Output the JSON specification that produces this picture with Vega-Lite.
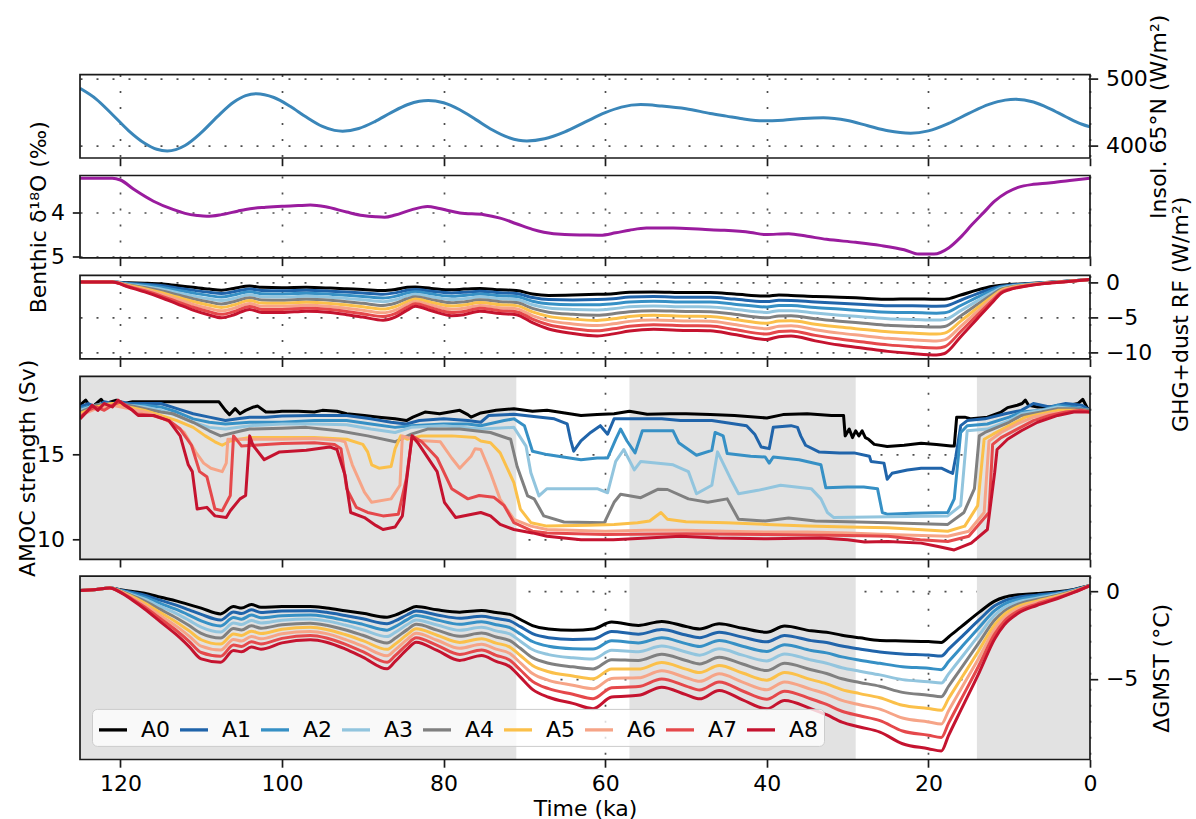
{
  "$schema": "https://vega.github.io/schema/vega-lite/v6.json",
  "padding": {"left": 15, "top": 13.6, "right": 0, "bottom": 0},
  "autosize": {"type": "pad"},
  "background": "white",
  "bounds": "flush",
  "spacing": 16.9,
  "resolve": {"scale": {"color": "independent"}, "legend": {"color": "independent"}},
  "config": {
    "font": "DejaVu Sans",
    "view": {"stroke": null},
    "axis": {
      "labelFont": "DejaVu Sans", "titleFont": "DejaVu Sans",
      "labelFontSize": 22, "titleFontSize": 22, "titleFontWeight": "normal",
      "labelColor": "#000000", "titleColor": "#000000",
      "tickSize": 7.7, "tickWidth": 1.7, "tickColor": "#1a1a1a",
      "domain": false, "grid": true, "gridDash": [2, 14], "gridColor": "#4d4d4d", "gridWidth": 1.7,
      "labelPadding": 7.7, "zindex": 1, "labelFlush": false, "labelOverlap": false, "format": "d"
    }
  },
  "datasets": {
    "mis": [{"a": 125, "b": 71}, {"a": 57, "b": 29}, {"a": 14, "b": 0}],
    "insol": [
      {"t":125,"v":486},{"t":123,"v":470},{"t":121,"v":447},{"t":119,"v":423},{"t":117,"v":404},{"t":115.5,"v":395},{"t":114.2,"v":392.5},{"t":112,"v":400.7},{"t":110,"v":419.8},{"t":108,"v":443.7},{"t":106,"v":465.1},{"t":104.5,"v":475.1},{"t":103.2,"v":478},{"t":101,"v":472.3},{"t":99,"v":459.3},{"t":97,"v":443.1},{"t":95,"v":429.2},{"t":93.5,"v":423.2},{"t":92.5,"v":422},{"t":90.5,"v":426},{"t":88.5,"v":436.4},{"t":86.5,"v":449.7},{"t":84.5,"v":461.5},{"t":83,"v":466.8},{"t":81.9,"v":468},{"t":80,"v":464.4},{"t":78,"v":454},{"t":76,"v":439.3},{"t":74,"v":424.2},{"t":72,"v":412.7},{"t":70.7,"v":408.5},{"t":69.7,"v":407.5},{"t":67.5,"v":410.7},{"t":65,"v":421.1},{"t":62.5,"v":435.5},{"t":60,"v":449.7},{"t":58,"v":458},{"t":55.6,"v":461.7},{"t":53,"v":459.5},{"t":50,"v":455.5},{"t":47,"v":448.5},{"t":45,"v":444.5},{"t":43,"v":440.5},{"t":40.5,"v":437.5},{"t":38,"v":438.5},{"t":35.5,"v":441},{"t":33,"v":442},{"t":30,"v":437.9},{"t":27.5,"v":430.2},{"t":25,"v":422.6},{"t":22.2,"v":419},{"t":20,"v":422.5},{"t":17.5,"v":433.7},{"t":15,"v":448.6},{"t":12.5,"v":462},{"t":10.5,"v":468.4},{"t":9.2,"v":469.6},{"t":7,"v":465.5},{"t":5,"v":455.8},{"t":3,"v":443.6},{"t":1,"v":432.4},{"t":0,"v":428.4}
    ],
    "d18o": [
      {"t":125,"v":3.2},{"t":121,"v":3.2},{"t":120,"v":3.24},{"t":118.3,"v":3.46},{"t":115.9,"v":3.73},{"t":113.5,"v":3.92},{"t":112,"v":4.01},{"t":110.5,"v":4.06},{"t":109.3,"v":4.08},{"t":107.5,"v":4.04},{"t":105.5,"v":3.96},{"t":104.5,"v":3.92},{"t":102,"v":3.87},{"t":100,"v":3.845},{"t":98,"v":3.83},{"t":96.5,"v":3.82},{"t":94.6,"v":3.86},{"t":92,"v":3.98},{"t":90,"v":4.06},{"t":88.4,"v":4.09},{"t":87.3,"v":4.1},{"t":86,"v":4.05},{"t":84,"v":3.93},{"t":82,"v":3.85},{"t":80.5,"v":3.9},{"t":78,"v":4.0},{"t":75,"v":4.04},{"t":73,"v":4.12},{"t":71,"v":4.25},{"t":69,"v":4.38},{"t":67.6,"v":4.446},{"t":65,"v":4.5},{"t":62.5,"v":4.51},{"t":60.6,"v":4.515},{"t":58.7,"v":4.46},{"t":57,"v":4.4},{"t":54.9,"v":4.35},{"t":51.6,"v":4.35},{"t":48,"v":4.38},{"t":45.4,"v":4.4},{"t":42,"v":4.45},{"t":40.2,"v":4.5},{"t":37.3,"v":4.48},{"t":35,"v":4.54},{"t":32.6,"v":4.61},{"t":29,"v":4.68},{"t":26,"v":4.75},{"t":23,"v":4.85},{"t":21.2,"v":4.95},{"t":19.3,"v":4.95},{"t":17.5,"v":4.81},{"t":16,"v":4.56},{"t":14.6,"v":4.27},{"t":13.2,"v":4.0},{"t":11.8,"v":3.73},{"t":10.3,"v":3.53},{"t":8.9,"v":3.41},{"t":7,"v":3.34},{"t":5.1,"v":3.31},{"t":2.5,"v":3.25},{"t":0,"v":3.2}
    ],
    "rf": [
      {"t":125,"A0":0.1,"A1":0.1,"A2":0.1,"A3":0.1,"A4":0.1,"A5":0.1,"A6":0.1,"A7":0.1,"A8":0.1},
      {"t":121,"A0":0.1,"A1":0.1,"A2":0.1,"A3":0.1,"A4":0.1,"A5":0.1,"A6":0.1,"A7":0.1,"A8":0.1},
      {"t":119,"A0":0,"A1":-0.08,"A2":-0.15,"A3":-0.23,"A4":-0.3,"A5":-0.38,"A6":-0.45,"A7":-0.53,"A8":-0.6},
      {"t":117,"A0":-0.05,"A1":-0.21,"A2":-0.36,"A3":-0.52,"A4":-0.68,"A5":-0.83,"A6":-0.99,"A7":-1.14,"A8":-1.3},
      {"t":115,"A0":-0.15,"A1":-0.39,"A2":-0.64,"A3":-0.88,"A4":-1.13,"A5":-1.37,"A6":-1.61,"A7":-1.86,"A8":-2.1},
      {"t":113,"A0":-0.4,"A1":-0.73,"A2":-1.05,"A3":-1.38,"A4":-1.7,"A5":-2.03,"A6":-2.35,"A7":-2.68,"A8":-3.0},
      {"t":111,"A0":-0.65,"A1":-1.06,"A2":-1.46,"A3":-1.87,"A4":-2.28,"A5":-2.68,"A6":-3.09,"A7":-3.49,"A8":-3.9},
      {"t":109,"A0":-0.9,"A1":-1.36,"A2":-1.83,"A3":-2.29,"A4":-2.75,"A5":-3.21,"A6":-3.68,"A7":-4.14,"A8":-4.6},
      {"t":107.5,"A0":-1.05,"A1":-1.54,"A2":-2.04,"A3":-2.53,"A4":-3.03,"A5":-3.52,"A6":-4.01,"A7":-4.51,"A8":-5.0},
      {"t":106,"A0":-0.8,"A1":-1.28,"A2":-1.75,"A3":-2.23,"A4":-2.7,"A5":-3.18,"A6":-3.65,"A7":-4.13,"A8":-4.6},
      {"t":104,"A0":-0.45,"A1":-0.87,"A2":-1.29,"A3":-1.71,"A4":-2.13,"A5":-2.54,"A6":-2.96,"A7":-3.38,"A8":-3.8},
      {"t":102.5,"A0":-0.65,"A1":-1.1,"A2":-1.55,"A3":-2.0,"A4":-2.45,"A5":-2.9,"A6":-3.35,"A7":-3.8,"A8":-4.25},
      {"t":100,"A0":-0.7,"A1":-1.14,"A2":-1.59,"A3":-2.03,"A4":-2.48,"A5":-2.92,"A6":-3.36,"A7":-3.81,"A8":-4.25},
      {"t":97,"A0":-0.65,"A1":-1.08,"A2":-1.5,"A3":-1.93,"A4":-2.35,"A5":-2.78,"A6":-3.2,"A7":-3.63,"A8":-4.05},
      {"t":94,"A0":-0.75,"A1":-1.19,"A2":-1.63,"A3":-2.06,"A4":-2.5,"A5":-2.94,"A6":-3.38,"A7":-3.81,"A8":-4.25},
      {"t":92,"A0":-0.85,"A1":-1.31,"A2":-1.78,"A3":-2.24,"A4":-2.7,"A5":-3.16,"A6":-3.63,"A7":-4.09,"A8":-4.55},
      {"t":90,"A0":-0.95,"A1":-1.44,"A2":-1.94,"A3":-2.43,"A4":-2.93,"A5":-3.42,"A6":-3.91,"A7":-4.41,"A8":-4.9},
      {"t":87.5,"A0":-1.1,"A1":-1.63,"A2":-2.16,"A3":-2.69,"A4":-3.23,"A5":-3.76,"A6":-4.29,"A7":-4.82,"A8":-5.35},
      {"t":86,"A0":-0.95,"A1":-1.44,"A2":-1.94,"A3":-2.43,"A4":-2.93,"A5":-3.42,"A6":-3.91,"A7":-4.41,"A8":-4.9},
      {"t":84.5,"A0":-0.65,"A1":-1.06,"A2":-1.46,"A3":-1.87,"A4":-2.28,"A5":-2.68,"A6":-3.09,"A7":-3.49,"A8":-3.9},
      {"t":83.5,"A0":-0.6,"A1":-0.94,"A2":-1.29,"A3":-1.63,"A4":-1.98,"A5":-2.32,"A6":-2.66,"A7":-3.01,"A8":-3.35},
      {"t":81.5,"A0":-0.8,"A1":-1.2,"A2":-1.6,"A3":-2.0,"A4":-2.4,"A5":-2.8,"A6":-3.2,"A7":-3.6,"A8":-4.0},
      {"t":79,"A0":-1.0,"A1":-1.46,"A2":-1.93,"A3":-2.39,"A4":-2.85,"A5":-3.31,"A6":-3.78,"A7":-4.24,"A8":-4.7},
      {"t":77.5,"A0":-0.9,"A1":-1.36,"A2":-1.81,"A3":-2.27,"A4":-2.73,"A5":-3.18,"A6":-3.64,"A7":-4.09,"A8":-4.55},
      {"t":75.5,"A0":-0.8,"A1":-1.21,"A2":-1.61,"A3":-2.02,"A4":-2.43,"A5":-2.83,"A6":-3.24,"A7":-3.64,"A8":-4.05},
      {"t":73,"A0":-1.0,"A1":-1.43,"A2":-1.85,"A3":-2.28,"A4":-2.7,"A5":-3.13,"A6":-3.55,"A7":-3.98,"A8":-4.4},
      {"t":71,"A0":-1.1,"A1":-1.53,"A2":-1.96,"A3":-2.39,"A4":-2.83,"A5":-3.26,"A6":-3.69,"A7":-4.12,"A8":-4.55},
      {"t":69,"A0":-1.6,"A1":-2.11,"A2":-2.63,"A3":-3.14,"A4":-3.65,"A5":-4.16,"A6":-4.68,"A7":-5.19,"A8":-5.7},
      {"t":67,"A0":-1.8,"A1":-2.4,"A2":-3.0,"A3":-3.6,"A4":-4.2,"A5":-4.8,"A6":-5.4,"A7":-6.0,"A8":-6.6},
      {"t":64,"A0":-1.75,"A1":-2.44,"A2":-3.13,"A3":-3.81,"A4":-4.5,"A5":-5.19,"A6":-5.88,"A7":-6.56,"A8":-7.25},
      {"t":61,"A0":-1.65,"A1":-2.39,"A2":-3.14,"A3":-3.88,"A4":-4.63,"A5":-5.37,"A6":-6.11,"A7":-6.86,"A8":-7.6},
      {"t":59,"A0":-1.55,"A1":-2.27,"A2":-2.99,"A3":-3.71,"A4":-4.43,"A5":-5.14,"A6":-5.86,"A7":-6.58,"A8":-7.3},
      {"t":57,"A0":-1.35,"A1":-2.04,"A2":-2.74,"A3":-3.43,"A4":-4.13,"A5":-4.82,"A6":-5.51,"A7":-6.21,"A8":-6.9},
      {"t":54,"A0":-1.3,"A1":-1.97,"A2":-2.64,"A3":-3.31,"A4":-3.98,"A5":-4.64,"A6":-5.31,"A7":-5.98,"A8":-6.65},
      {"t":50,"A0":-1.4,"A1":-2.08,"A2":-2.75,"A3":-3.43,"A4":-4.1,"A5":-4.78,"A6":-5.45,"A7":-6.13,"A8":-6.8},
      {"t":47,"A0":-1.4,"A1":-2.08,"A2":-2.76,"A3":-3.44,"A4":-4.13,"A5":-4.81,"A6":-5.49,"A7":-6.17,"A8":-6.85},
      {"t":44,"A0":-1.6,"A1":-2.33,"A2":-3.05,"A3":-3.78,"A4":-4.5,"A5":-5.23,"A6":-5.95,"A7":-6.68,"A8":-7.4},
      {"t":40,"A0":-1.9,"A1":-2.68,"A2":-3.45,"A3":-4.23,"A4":-5.0,"A5":-5.78,"A6":-6.55,"A7":-7.33,"A8":-8.1},
      {"t":38.5,"A0":-1.75,"A1":-2.49,"A2":-3.24,"A3":-3.98,"A4":-4.73,"A5":-5.47,"A6":-6.21,"A7":-6.96,"A8":-7.7},
      {"t":37,"A0":-1.8,"A1":-2.53,"A2":-3.25,"A3":-3.98,"A4":-4.7,"A5":-5.43,"A6":-6.15,"A7":-6.88,"A8":-7.6},
      {"t":34,"A0":-1.95,"A1":-2.74,"A2":-3.54,"A3":-4.33,"A4":-5.13,"A5":-5.92,"A6":-6.71,"A7":-7.51,"A8":-8.3},
      {"t":31,"A0":-2.05,"A1":-2.91,"A2":-3.76,"A3":-4.62,"A4":-5.48,"A5":-6.33,"A6":-7.19,"A7":-8.04,"A8":-8.9},
      {"t":28,"A0":-2.2,"A1":-3.09,"A2":-3.99,"A3":-4.88,"A4":-5.78,"A5":-6.67,"A6":-7.56,"A7":-8.46,"A8":-9.35},
      {"t":25,"A0":-2.35,"A1":-3.28,"A2":-4.21,"A3":-5.14,"A4":-6.08,"A5":-7.01,"A6":-7.94,"A7":-8.87,"A8":-9.8},
      {"t":22,"A0":-2.3,"A1":-3.28,"A2":-4.25,"A3":-5.23,"A4":-6.2,"A5":-7.18,"A6":-8.15,"A7":-9.13,"A8":-10.1},
      {"t":19,"A0":-2.35,"A1":-3.34,"A2":-4.34,"A3":-5.33,"A4":-6.33,"A5":-7.32,"A6":-8.31,"A7":-9.31,"A8":-10.3},
      {"t":18,"A0":-2.35,"A1":-3.32,"A2":-4.29,"A3":-5.26,"A4":-6.23,"A5":-7.19,"A6":-8.16,"A7":-9.13,"A8":-10.1},
      {"t":16,"A0":-1.75,"A1":-2.49,"A2":-3.24,"A3":-3.98,"A4":-4.73,"A5":-5.47,"A6":-6.21,"A7":-6.96,"A8":-7.7},
      {"t":14,"A0":-1.05,"A1":-1.57,"A2":-2.09,"A3":-2.61,"A4":-3.13,"A5":-3.64,"A6":-4.16,"A7":-4.68,"A8":-5.2},
      {"t":12,"A0":-0.5,"A1":-0.78,"A2":-1.05,"A3":-1.33,"A4":-1.6,"A5":-1.88,"A6":-2.15,"A7":-2.43,"A8":-2.7},
      {"t":11,"A0":-0.33,"A1":-0.48,"A2":-0.62,"A3":-0.77,"A4":-0.92,"A5":-1.06,"A6":-1.21,"A7":-1.35,"A8":-1.5},
      {"t":10,"A0":-0.25,"A1":-0.34,"A2":-0.44,"A3":-0.53,"A4":-0.63,"A5":-0.72,"A6":-0.81,"A7":-0.91,"A8":-1.0},
      {"t":8,"A0":-0.12,"A1":-0.17,"A2":-0.22,"A3":-0.26,"A4":-0.31,"A5":-0.36,"A6":-0.4,"A7":-0.45,"A8":-0.5},
      {"t":6,"A0":0,"A1":-0.02,"A2":-0.04,"A3":-0.06,"A4":-0.08,"A5":-0.09,"A6":-0.11,"A7":-0.13,"A8":-0.15},
      {"t":3,"A0":0.22,"A1":0.21,"A2":0.2,"A3":0.19,"A4":0.19,"A5":0.18,"A6":0.17,"A7":0.16,"A8":0.15},
      {"t":0,"A0":0.48,"A1":0.48,"A2":0.48,"A3":0.48,"A4":0.48,"A5":0.48,"A6":0.48,"A7":0.48,"A8":0.48}
    ],
    "gmst": [
      {"t":125,"A0":0.06,"A1":0.06,"A2":0.06,"A3":0.06,"A4":0.06,"A5":0.06,"A6":0.06,"A7":0.06,"A8":0.06},
      {"t":123,"A0":0.12,"A1":0.12,"A2":0.12,"A3":0.12,"A4":0.12,"A5":0.12,"A6":0.12,"A7":0.12,"A8":0.12},
      {"t":121.3,"A0":0.2,"A1":0.2,"A2":0.2,"A3":0.2,"A4":0.2,"A5":0.2,"A6":0.2,"A7":0.2,"A8":0.2},
      {"t":120,"A0":0.1,"A1":0.08,"A2":0.06,"A3":0.04,"A4":0.03,"A5":0.01,"A6":-0.01,"A7":-0.03,"A8":-0.05},
      {"t":118.5,"A0":0,"A1":-0.06,"A2":-0.13,"A3":-0.19,"A4":-0.25,"A5":-0.31,"A6":-0.38,"A7":-0.44,"A8":-0.5},
      {"t":117,"A0":-0.1,"A1":-0.21,"A2":-0.33,"A3":-0.44,"A4":-0.55,"A5":-0.66,"A6":-0.78,"A7":-0.89,"A8":-1.0},
      {"t":115,"A0":-0.33,"A1":-0.51,"A2":-0.69,"A3":-0.86,"A4":-1.04,"A5":-1.22,"A6":-1.4,"A7":-1.57,"A8":-1.75},
      {"t":113,"A0":-0.55,"A1":-0.79,"A2":-1.04,"A3":-1.28,"A4":-1.53,"A5":-1.77,"A6":-2.01,"A7":-2.26,"A8":-2.5},
      {"t":111.5,"A0":-0.75,"A1":-1.05,"A2":-1.35,"A3":-1.65,"A4":-1.95,"A5":-2.25,"A6":-2.55,"A7":-2.85,"A8":-3.15},
      {"t":110,"A0":-0.95,"A1":-1.31,"A2":-1.68,"A3":-2.04,"A4":-2.4,"A5":-2.76,"A6":-3.13,"A7":-3.49,"A8":-3.85},
      {"t":107.6,"A0":-1.28,"A1":-1.63,"A2":-1.97,"A3":-2.32,"A4":-2.66,"A5":-3.01,"A6":-3.35,"A7":-3.7,"A8":-4.04},
      {"t":106,"A0":-0.86,"A1":-1.17,"A2":-1.49,"A3":-1.8,"A4":-2.12,"A5":-2.43,"A6":-2.74,"A7":-3.06,"A8":-3.37},
      {"t":105,"A0":-0.95,"A1":-1.26,"A2":-1.58,"A3":-1.89,"A4":-2.2,"A5":-2.51,"A6":-2.83,"A7":-3.14,"A8":-3.45},
      {"t":103.8,"A0":-0.74,"A1":-1.05,"A2":-1.35,"A3":-1.66,"A4":-1.96,"A5":-2.27,"A6":-2.57,"A7":-2.88,"A8":-3.18},
      {"t":102.6,"A0":-0.9,"A1":-1.2,"A2":-1.5,"A3":-1.8,"A4":-2.1,"A5":-2.4,"A6":-2.7,"A7":-3.0,"A8":-3.3},
      {"t":100,"A0":-0.86,"A1":-1.12,"A2":-1.38,"A3":-1.64,"A4":-1.9,"A5":-2.16,"A6":-2.42,"A7":-2.68,"A8":-2.94},
      {"t":96.5,"A0":-0.86,"A1":-1.1,"A2":-1.34,"A3":-1.57,"A4":-1.81,"A5":-2.05,"A6":-2.29,"A7":-2.52,"A8":-2.76},
      {"t":94.5,"A0":-0.95,"A1":-1.19,"A2":-1.44,"A3":-1.68,"A4":-1.93,"A5":-2.17,"A6":-2.41,"A7":-2.66,"A8":-2.9},
      {"t":92.2,"A0":-1.1,"A1":-1.37,"A2":-1.65,"A3":-1.92,"A4":-2.19,"A5":-2.46,"A6":-2.74,"A7":-3.01,"A8":-3.28},
      {"t":90,"A0":-1.25,"A1":-1.56,"A2":-1.88,"A3":-2.19,"A4":-2.5,"A5":-2.81,"A6":-3.13,"A7":-3.44,"A8":-3.75},
      {"t":87,"A0":-1.47,"A1":-1.84,"A2":-2.21,"A3":-2.58,"A4":-2.95,"A5":-3.31,"A6":-3.68,"A7":-4.05,"A8":-4.42},
      {"t":86,"A0":-1.35,"A1":-1.68,"A2":-2.01,"A3":-2.34,"A4":-2.68,"A5":-3.01,"A6":-3.34,"A7":-3.67,"A8":-4.0},
      {"t":84.5,"A0":-1.05,"A1":-1.33,"A2":-1.61,"A3":-1.89,"A4":-2.18,"A5":-2.46,"A6":-2.74,"A7":-3.02,"A8":-3.3},
      {"t":83.4,"A0":-0.86,"A1":-1.12,"A2":-1.37,"A3":-1.63,"A4":-1.88,"A5":-2.13,"A6":-2.39,"A7":-2.64,"A8":-2.9},
      {"t":80.8,"A0":-1.05,"A1":-1.34,"A2":-1.63,"A3":-1.92,"A4":-2.21,"A5":-2.5,"A6":-2.79,"A7":-3.08,"A8":-3.37},
      {"t":78,"A0":-1.18,"A1":-1.53,"A2":-1.87,"A3":-2.22,"A4":-2.56,"A5":-2.91,"A6":-3.25,"A7":-3.6,"A8":-3.94},
      {"t":75.3,"A0":-1.09,"A1":-1.41,"A2":-1.73,"A3":-2.05,"A4":-2.38,"A5":-2.7,"A6":-3.02,"A7":-3.34,"A8":-3.66},
      {"t":73.5,"A0":-1.2,"A1":-1.55,"A2":-1.9,"A3":-2.25,"A4":-2.6,"A5":-2.95,"A6":-3.3,"A7":-3.65,"A8":-4.0},
      {"t":71.8,"A0":-1.31,"A1":-1.68,"A2":-2.06,"A3":-2.43,"A4":-2.81,"A5":-3.18,"A6":-3.55,"A7":-3.93,"A8":-4.3},
      {"t":70.5,"A0":-1.6,"A1":-2.01,"A2":-2.43,"A3":-2.84,"A4":-3.25,"A5":-3.66,"A6":-4.08,"A7":-4.49,"A8":-4.9},
      {"t":69,"A0":-1.95,"A1":-2.41,"A2":-2.86,"A3":-3.32,"A4":-3.78,"A5":-4.23,"A6":-4.69,"A7":-5.14,"A8":-5.6},
      {"t":67,"A0":-2.15,"A1":-2.64,"A2":-3.13,"A3":-3.61,"A4":-4.1,"A5":-4.59,"A6":-5.08,"A7":-5.56,"A8":-6.05},
      {"t":64,"A0":-2.22,"A1":-2.74,"A2":-3.27,"A3":-3.79,"A4":-4.31,"A5":-4.83,"A6":-5.36,"A7":-5.88,"A8":-6.4},
      {"t":61.5,"A0":-2.15,"A1":-2.72,"A2":-3.29,"A3":-3.86,"A4":-4.43,"A5":-4.99,"A6":-5.56,"A7":-6.13,"A8":-6.7},
      {"t":59.2,"A0":-1.75,"A1":-2.29,"A2":-2.82,"A3":-3.36,"A4":-3.9,"A5":-4.43,"A6":-4.97,"A7":-5.5,"A8":-6.04},
      {"t":55.9,"A0":-1.94,"A1":-2.44,"A2":-2.94,"A3":-3.44,"A4":-3.94,"A5":-4.44,"A6":-4.94,"A7":-5.44,"A8":-5.94},
      {"t":53,"A0":-1.71,"A1":-2.18,"A2":-2.65,"A3":-3.12,"A4":-3.59,"A5":-4.06,"A6":-4.53,"A7":-5.0,"A8":-5.47},
      {"t":50,"A0":-2.0,"A1":-2.49,"A2":-2.98,"A3":-3.46,"A4":-3.95,"A5":-4.44,"A6":-4.93,"A7":-5.41,"A8":-5.9},
      {"t":48.3,"A0":-2.14,"A1":-2.64,"A2":-3.14,"A3":-3.64,"A4":-4.14,"A5":-4.64,"A6":-5.14,"A7":-5.64,"A8":-6.14},
      {"t":45.9,"A0":-1.85,"A1":-2.33,"A2":-2.8,"A3":-3.28,"A4":-3.76,"A5":-4.23,"A6":-4.71,"A7":-5.18,"A8":-5.66},
      {"t":43,"A0":-2.1,"A1":-2.61,"A2":-3.13,"A3":-3.64,"A4":-4.15,"A5":-4.66,"A6":-5.18,"A7":-5.69,"A8":-6.2},
      {"t":40,"A0":-2.33,"A1":-2.88,"A2":-3.43,"A3":-3.97,"A4":-4.52,"A5":-5.07,"A6":-5.62,"A7":-6.16,"A8":-6.71},
      {"t":37.8,"A0":-1.98,"A1":-2.51,"A2":-3.04,"A3":-3.57,"A4":-4.11,"A5":-4.64,"A6":-5.17,"A7":-5.7,"A8":-6.23},
      {"t":34.5,"A0":-2.25,"A1":-2.81,"A2":-3.37,"A3":-3.92,"A4":-4.48,"A5":-5.04,"A6":-5.6,"A7":-6.15,"A8":-6.71},
      {"t":32.6,"A0":-2.33,"A1":-2.92,"A2":-3.51,"A3":-4.1,"A4":-4.69,"A5":-5.28,"A6":-5.87,"A7":-6.46,"A8":-7.05},
      {"t":30.7,"A0":-2.5,"A1":-3.12,"A2":-3.74,"A3":-4.36,"A4":-4.99,"A5":-5.61,"A6":-6.23,"A7":-6.85,"A8":-7.47},
      {"t":28.5,"A0":-2.65,"A1":-3.29,"A2":-3.93,"A3":-4.56,"A4":-5.2,"A5":-5.84,"A6":-6.48,"A7":-7.11,"A8":-7.75},
      {"t":26,"A0":-2.8,"A1":-3.46,"A2":-4.11,"A3":-4.77,"A4":-5.42,"A5":-6.08,"A6":-6.73,"A7":-7.39,"A8":-8.04},
      {"t":23.2,"A0":-2.83,"A1":-3.57,"A2":-4.3,"A3":-5.04,"A4":-5.77,"A5":-6.51,"A6":-7.24,"A7":-7.98,"A8":-8.71},
      {"t":20,"A0":-2.86,"A1":-3.63,"A2":-4.39,"A3":-5.16,"A4":-5.93,"A5":-6.69,"A6":-7.46,"A7":-8.22,"A8":-8.99},
      {"t":18.4,"A0":-2.91,"A1":-3.69,"A2":-4.47,"A3":-5.24,"A4":-6.02,"A5":-6.8,"A6":-7.58,"A7":-8.35,"A8":-9.13},
      {"t":17.5,"A0":-2.6,"A1":-3.3,"A2":-4.01,"A3":-4.71,"A4":-5.42,"A5":-6.12,"A6":-6.82,"A7":-7.53,"A8":-8.23},
      {"t":16,"A0":-2.04,"A1":-2.64,"A2":-3.23,"A3":-3.83,"A4":-4.42,"A5":-5.02,"A6":-5.61,"A7":-6.21,"A8":-6.8},
      {"t":13.7,"A0":-1.18,"A1":-1.61,"A2":-2.04,"A3":-2.47,"A4":-2.9,"A5":-3.33,"A6":-3.76,"A7":-4.19,"A8":-4.62},
      {"t":11.8,"A0":-0.55,"A1":-0.82,"A2":-1.09,"A3":-1.36,"A4":-1.63,"A5":-1.9,"A6":-2.17,"A7":-2.44,"A8":-2.71},
      {"t":10.6,"A0":-0.33,"A1":-0.53,"A2":-0.72,"A3":-0.92,"A4":-1.12,"A5":-1.31,"A6":-1.51,"A7":-1.7,"A8":-1.9},
      {"t":8.9,"A0":-0.19,"A1":-0.32,"A2":-0.46,"A3":-0.59,"A4":-0.72,"A5":-0.85,"A6":-0.99,"A7":-1.12,"A8":-1.25},
      {"t":6.6,"A0":-0.12,"A1":-0.21,"A2":-0.29,"A3":-0.38,"A4":-0.46,"A5":-0.55,"A6":-0.63,"A7":-0.72,"A8":-0.8},
      {"t":4,"A0":-0.02,"A1":-0.07,"A2":-0.12,"A3":-0.16,"A4":-0.21,"A5":-0.26,"A6":-0.31,"A7":-0.35,"A8":-0.4},
      {"t":2,"A0":0.12,"A1":0.1,"A2":0.08,"A3":0.06,"A4":0.04,"A5":0.01,"A6":-0.01,"A7":-0.03,"A8":-0.05},
      {"t":0,"A0":0.34,"A1":0.34,"A2":0.34,"A3":0.34,"A4":0.34,"A5":0.34,"A6":0.34,"A7":0.34,"A8":0.34}
    ],
    "amoc": [
      {"s":"A0","t":125,"v":17.9},{"s":"A0","t":124.3,"v":18.2},{"s":"A0","t":123.6,"v":17.7},{"s":"A0","t":123,"v":18.0},{"s":"A0","t":122.4,"v":18.25},{"s":"A0","t":121.8,"v":17.9},{"s":"A0","t":121.2,"v":18.1},{"s":"A0","t":120.5,"v":18.2},{"s":"A0","t":119.5,"v":18.0},{"s":"A0","t":118.5,"v":18.1},{"s":"A0","t":116,"v":18.1},{"s":"A0","t":113,"v":18.1},{"s":"A0","t":110,"v":18.1},{"s":"A0","t":107.8,"v":18.1},{"s":"A0","t":107,"v":17.6},{"s":"A0","t":106.5,"v":17.35},{"s":"A0","t":105.8,"v":17.7},{"s":"A0","t":105.2,"v":17.4},{"s":"A0","t":104.5,"v":17.6},{"s":"A0","t":103.5,"v":17.8},{"s":"A0","t":103,"v":17.85},{"s":"A0","t":102,"v":17.5},{"s":"A0","t":101,"v":17.5},{"s":"A0","t":100,"v":17.55},{"s":"A0","t":98,"v":17.55},{"s":"A0","t":96,"v":17.5},{"s":"A0","t":95,"v":17.6},{"s":"A0","t":93.2,"v":17.55},{"s":"A0","t":92,"v":17.4},{"s":"A0","t":89.8,"v":17.3},{"s":"A0","t":88,"v":17.2},{"s":"A0","t":86,"v":17.1},{"s":"A0","t":84.6,"v":17.0},{"s":"A0","t":83.8,"v":17.2},{"s":"A0","t":82.3,"v":17.5},{"s":"A0","t":80.5,"v":17.4},{"s":"A0","t":78,"v":17.6},{"s":"A0","t":77,"v":17.35},{"s":"A0","t":76.6,"v":17.2},{"s":"A0","t":75.4,"v":17.45},{"s":"A0","t":73.5,"v":17.6},{"s":"A0","t":71.3,"v":17.7},{"s":"A0","t":69,"v":17.55},{"s":"A0","t":67.2,"v":17.6},{"s":"A0","t":65,"v":17.45},{"s":"A0","t":63,"v":17.3},{"s":"A0","t":61,"v":17.35},{"s":"A0","t":58.9,"v":17.4},{"s":"A0","t":57,"v":17.55},{"s":"A0","t":54.8,"v":17.37},{"s":"A0","t":52,"v":17.4},{"s":"A0","t":50,"v":17.4},{"s":"A0","t":47,"v":17.35},{"s":"A0","t":44,"v":17.3},{"s":"A0","t":40,"v":17.15},{"s":"A0","t":38,"v":17.35},{"s":"A0","t":35,"v":17.4},{"s":"A0","t":32,"v":17.3},{"s":"A0","t":30.5,"v":17.3},{"s":"A0","t":30.3,"v":16.1},{"s":"A0","t":29.8,"v":16.5},{"s":"A0","t":29.4,"v":16.0},{"s":"A0","t":29,"v":16.4},{"s":"A0","t":28.6,"v":16.1},{"s":"A0","t":28.2,"v":16.4},{"s":"A0","t":27.8,"v":16.0},{"s":"A0","t":27.4,"v":15.9},{"s":"A0","t":26.7,"v":15.6},{"s":"A0","t":25.1,"v":15.47},{"s":"A0","t":23,"v":15.55},{"s":"A0","t":20.9,"v":15.67},{"s":"A0","t":19,"v":15.6},{"s":"A0","t":17.2,"v":15.5},{"s":"A0","t":16.8,"v":15.5},{"s":"A0","t":16.5,"v":17.2},{"s":"A0","t":15.5,"v":17.2},{"s":"A0","t":14.7,"v":17.1},{"s":"A0","t":12.7,"v":17.2},{"s":"A0","t":11,"v":17.5},{"s":"A0","t":10.2,"v":17.76},{"s":"A0","t":9,"v":17.9},{"s":"A0","t":8.4,"v":18.0},{"s":"A0","t":8,"v":18.2},{"s":"A0","t":7.6,"v":17.9},{"s":"A0","t":6.5,"v":17.8},{"s":"A0","t":4,"v":17.8},{"s":"A0","t":2.5,"v":17.9},{"s":"A0","t":1.5,"v":18.0},{"s":"A0","t":0.9,"v":18.25},{"s":"A0","t":0.4,"v":17.8},{"s":"A0","t":0,"v":17.5},
      {"s":"A1","t":125,"v":17.8},{"s":"A1","t":124,"v":18.0},{"s":"A1","t":123,"v":17.8},{"s":"A1","t":122,"v":18.1},{"s":"A1","t":121,"v":18.0},{"s":"A1","t":120,"v":18.1},{"s":"A1","t":119,"v":18.0},{"s":"A1","t":117,"v":18.0},{"s":"A1","t":115,"v":18.0},{"s":"A1","t":113,"v":17.7},{"s":"A1","t":111,"v":17.4},{"s":"A1","t":109,"v":17.2},{"s":"A1","t":107,"v":17.0},{"s":"A1","t":105.5,"v":17.1},{"s":"A1","t":104,"v":17.2},{"s":"A1","t":102,"v":17.2},{"s":"A1","t":100,"v":17.27},{"s":"A1","t":96,"v":17.3},{"s":"A1","t":92,"v":17.3},{"s":"A1","t":89,"v":17.1},{"s":"A1","t":86.5,"v":16.9},{"s":"A1","t":84.6,"v":16.8},{"s":"A1","t":83,"v":17.0},{"s":"A1","t":80,"v":17.1},{"s":"A1","t":77,"v":17.0},{"s":"A1","t":75.4,"v":16.9},{"s":"A1","t":74.4,"v":17.3},{"s":"A1","t":71.3,"v":17.37},{"s":"A1","t":68,"v":17.2},{"s":"A1","t":66.3,"v":17.1},{"s":"A1","t":64.7,"v":16.8},{"s":"A1","t":64.3,"v":15.9},{"s":"A1","t":63.9,"v":15.2},{"s":"A1","t":63,"v":15.8},{"s":"A1","t":61.8,"v":16.3},{"s":"A1","t":60.6,"v":16.7},{"s":"A1","t":59.7,"v":16.2},{"s":"A1","t":58.9,"v":17.1},{"s":"A1","t":56,"v":17.1},{"s":"A1","t":53,"v":17.1},{"s":"A1","t":50.7,"v":17.0},{"s":"A1","t":46.8,"v":17.0},{"s":"A1","t":42.5,"v":16.7},{"s":"A1","t":41.5,"v":16.2},{"s":"A1","t":40.7,"v":15.45},{"s":"A1","t":39.7,"v":15.35},{"s":"A1","t":39.2,"v":16.6},{"s":"A1","t":37,"v":16.7},{"s":"A1","t":36.2,"v":16.6},{"s":"A1","t":35.8,"v":16.1},{"s":"A1","t":35.2,"v":15.55},{"s":"A1","t":33.5,"v":15.15},{"s":"A1","t":31,"v":15.1},{"s":"A1","t":29.2,"v":15.1},{"s":"A1","t":27.3,"v":14.9},{"s":"A1","t":27.1,"v":14.6},{"s":"A1","t":25.5,"v":14.5},{"s":"A1","t":25.1,"v":13.55},{"s":"A1","t":24.5,"v":13.9},{"s":"A1","t":22.6,"v":14.1},{"s":"A1","t":20.9,"v":14.2},{"s":"A1","t":18.4,"v":14.2},{"s":"A1","t":17.5,"v":14.0},{"s":"A1","t":17,"v":13.9},{"s":"A1","t":16.6,"v":14.9},{"s":"A1","t":16,"v":16.7},{"s":"A1","t":15.2,"v":17.0},{"s":"A1","t":13,"v":17.1},{"s":"A1","t":10.5,"v":17.4},{"s":"A1","t":8.5,"v":17.6},{"s":"A1","t":7,"v":18.0},{"s":"A1","t":5,"v":17.8},{"s":"A1","t":3,"v":18.0},{"s":"A1","t":1,"v":17.9},{"s":"A1","t":0,"v":17.6},
      {"s":"A2","t":125,"v":17.7},{"s":"A2","t":123,"v":17.9},{"s":"A2","t":121,"v":18.0},{"s":"A2","t":119,"v":17.9},{"s":"A2","t":117,"v":17.9},{"s":"A2","t":115,"v":17.8},{"s":"A2","t":113,"v":17.5},{"s":"A2","t":111,"v":17.1},{"s":"A2","t":109,"v":16.9},{"s":"A2","t":107,"v":16.8},{"s":"A2","t":104,"v":16.9},{"s":"A2","t":100,"v":16.9},{"s":"A2","t":96,"v":17.0},{"s":"A2","t":92,"v":17.0},{"s":"A2","t":89,"v":16.8},{"s":"A2","t":86,"v":16.6},{"s":"A2","t":84,"v":16.7},{"s":"A2","t":80,"v":16.8},{"s":"A2","t":77,"v":16.8},{"s":"A2","t":75.4,"v":16.7},{"s":"A2","t":72.5,"v":17.0},{"s":"A2","t":71.3,"v":17.1},{"s":"A2","t":70,"v":16.7},{"s":"A2","t":69,"v":15.2},{"s":"A2","t":67.2,"v":15.0},{"s":"A2","t":65,"v":14.85},{"s":"A2","t":63,"v":14.7},{"s":"A2","t":61,"v":14.8},{"s":"A2","t":59.7,"v":14.8},{"s":"A2","t":58.7,"v":15.9},{"s":"A2","t":58.1,"v":16.5},{"s":"A2","t":57.3,"v":15.8},{"s":"A2","t":56.3,"v":15.1},{"s":"A2","t":55.4,"v":16.4},{"s":"A2","t":54,"v":16.4},{"s":"A2","t":51.6,"v":16.4},{"s":"A2","t":50.9,"v":15.7},{"s":"A2","t":48.7,"v":14.96},{"s":"A2","t":46.8,"v":15.25},{"s":"A2","t":46.4,"v":16.3},{"s":"A2","t":45.4,"v":16.1},{"s":"A2","t":44.9,"v":15.06},{"s":"A2","t":42,"v":14.9},{"s":"A2","t":40.2,"v":14.86},{"s":"A2","t":39.7,"v":14.5},{"s":"A2","t":39.2,"v":14.86},{"s":"A2","t":36,"v":14.7},{"s":"A2","t":33.3,"v":14.4},{"s":"A2","t":32.7,"v":13.06},{"s":"A2","t":30,"v":13.1},{"s":"A2","t":28,"v":13.1},{"s":"A2","t":26.3,"v":13.0},{"s":"A2","t":25.7,"v":11.6},{"s":"A2","t":25.1,"v":11.5},{"s":"A2","t":22,"v":11.55},{"s":"A2","t":17.6,"v":11.6},{"s":"A2","t":16.8,"v":12.4},{"s":"A2","t":16,"v":16.3},{"s":"A2","t":15.2,"v":16.7},{"s":"A2","t":12.7,"v":16.8},{"s":"A2","t":10,"v":17.2},{"s":"A2","t":8.5,"v":17.5},{"s":"A2","t":6,"v":17.6},{"s":"A2","t":4,"v":17.9},{"s":"A2","t":2,"v":17.8},{"s":"A2","t":0,"v":17.6},
      {"s":"A3","t":125,"v":17.6},{"s":"A3","t":123,"v":17.9},{"s":"A3","t":121,"v":18.0},{"s":"A3","t":119,"v":17.9},{"s":"A3","t":117,"v":17.8},{"s":"A3","t":115,"v":17.6},{"s":"A3","t":113,"v":17.3},{"s":"A3","t":111,"v":16.9},{"s":"A3","t":109,"v":16.6},{"s":"A3","t":107,"v":16.5},{"s":"A3","t":104,"v":16.7},{"s":"A3","t":100,"v":16.8},{"s":"A3","t":96,"v":16.8},{"s":"A3","t":92,"v":16.75},{"s":"A3","t":89,"v":16.5},{"s":"A3","t":86,"v":16.3},{"s":"A3","t":84,"v":16.6},{"s":"A3","t":80,"v":16.7},{"s":"A3","t":75.4,"v":16.5},{"s":"A3","t":71.3,"v":16.6},{"s":"A3","t":69.8,"v":15.5},{"s":"A3","t":69.2,"v":13.94},{"s":"A3","t":68.2,"v":12.57},{"s":"A3","t":67.2,"v":13.0},{"s":"A3","t":63,"v":13.0},{"s":"A3","t":61,"v":13.0},{"s":"A3","t":59.7,"v":12.76},{"s":"A3","t":58.7,"v":14.6},{"s":"A3","t":57.7,"v":15.3},{"s":"A3","t":56.4,"v":14.1},{"s":"A3","t":55.6,"v":14.6},{"s":"A3","t":51.6,"v":14.4},{"s":"A3","t":49.7,"v":14.0},{"s":"A3","t":48.7,"v":12.7},{"s":"A3","t":46.8,"v":13.2},{"s":"A3","t":46.1,"v":15.16},{"s":"A3","t":44.5,"v":13.6},{"s":"A3","t":43.5,"v":12.7},{"s":"A3","t":41.1,"v":12.9},{"s":"A3","t":38.3,"v":13.2},{"s":"A3","t":34.5,"v":13.0},{"s":"A3","t":33.3,"v":12.4},{"s":"A3","t":32.5,"v":11.6},{"s":"A3","t":31.7,"v":11.3},{"s":"A3","t":25,"v":11.35},{"s":"A3","t":17.6,"v":11.4},{"s":"A3","t":16,"v":12.0},{"s":"A3","t":15.2,"v":16.4},{"s":"A3","t":12.7,"v":16.5},{"s":"A3","t":10,"v":17.0},{"s":"A3","t":8.5,"v":17.4},{"s":"A3","t":6,"v":17.6},{"s":"A3","t":4,"v":17.8},{"s":"A3","t":2,"v":17.7},{"s":"A3","t":0,"v":17.6},
      {"s":"A4","t":125,"v":17.5},{"s":"A4","t":123,"v":17.9},{"s":"A4","t":121,"v":18.0},{"s":"A4","t":119,"v":17.9},{"s":"A4","t":117,"v":17.7},{"s":"A4","t":115,"v":17.5},{"s":"A4","t":113.5,"v":17.4},{"s":"A4","t":111,"v":16.9},{"s":"A4","t":109,"v":16.4},{"s":"A4","t":107.6,"v":16.1},{"s":"A4","t":105,"v":16.4},{"s":"A4","t":104,"v":16.5},{"s":"A4","t":100,"v":16.55},{"s":"A4","t":97,"v":16.6},{"s":"A4","t":93,"v":16.4},{"s":"A4","t":89.4,"v":16.1},{"s":"A4","t":86,"v":15.75},{"s":"A4","t":84,"v":16.2},{"s":"A4","t":82,"v":16.5},{"s":"A4","t":78,"v":16.5},{"s":"A4","t":74.2,"v":16.3},{"s":"A4","t":71.7,"v":15.9},{"s":"A4","t":70.9,"v":14.3},{"s":"A4","t":69.6,"v":12.57},{"s":"A4","t":68.8,"v":12.4},{"s":"A4","t":67.6,"v":11.4},{"s":"A4","t":65.1,"v":11.04},{"s":"A4","t":60.1,"v":11.0},{"s":"A4","t":58.9,"v":12.2},{"s":"A4","t":58.1,"v":12.67},{"s":"A4","t":55.6,"v":12.47},{"s":"A4","t":53.5,"v":12.96},{"s":"A4","t":52.3,"v":12.95},{"s":"A4","t":49.7,"v":12.4},{"s":"A4","t":47.3,"v":12.2},{"s":"A4","t":44.9,"v":12.4},{"s":"A4","t":43.5,"v":11.2},{"s":"A4","t":40.2,"v":11.1},{"s":"A4","t":37.3,"v":11.27},{"s":"A4","t":34,"v":11.1},{"s":"A4","t":30,"v":11.05},{"s":"A4","t":25,"v":11.0},{"s":"A4","t":17.6,"v":10.9},{"s":"A4","t":15.6,"v":11.6},{"s":"A4","t":14.3,"v":13.0},{"s":"A4","t":13.7,"v":16.1},{"s":"A4","t":13,"v":16.3},{"s":"A4","t":10,"v":16.9},{"s":"A4","t":8.5,"v":17.3},{"s":"A4","t":6,"v":17.5},{"s":"A4","t":4,"v":17.7},{"s":"A4","t":2,"v":17.7},{"s":"A4","t":0,"v":17.6},
      {"s":"A5","t":125,"v":17.4},{"s":"A5","t":123,"v":17.8},{"s":"A5","t":121,"v":18.0},{"s":"A5","t":119,"v":17.8},{"s":"A5","t":117,"v":17.6},{"s":"A5","t":115,"v":17.3},{"s":"A5","t":113,"v":17.0},{"s":"A5","t":111,"v":16.6},{"s":"A5","t":109.5,"v":16.1},{"s":"A5","t":108.3,"v":15.75},{"s":"A5","t":107.4,"v":15.55},{"s":"A5","t":106.4,"v":15.8},{"s":"A5","t":104,"v":16.0},{"s":"A5","t":100,"v":16.0},{"s":"A5","t":96,"v":16.0},{"s":"A5","t":92,"v":15.9},{"s":"A5","t":90,"v":15.6},{"s":"A5","t":89.4,"v":15.16},{"s":"A5","t":88.9,"v":14.4},{"s":"A5","t":88,"v":14.2},{"s":"A5","t":86.5,"v":14.3},{"s":"A5","t":86,"v":15.35},{"s":"A5","t":85.3,"v":16.1},{"s":"A5","t":84.5,"v":15.9},{"s":"A5","t":82.7,"v":16.1},{"s":"A5","t":79,"v":16.1},{"s":"A5","t":76.1,"v":16.0},{"s":"A5","t":75.4,"v":15.8},{"s":"A5","t":74.2,"v":15.7},{"s":"A5","t":73,"v":15.1},{"s":"A5","t":71.3,"v":13.35},{"s":"A5","t":70.5,"v":11.8},{"s":"A5","t":69.2,"v":11.0},{"s":"A5","t":67.2,"v":10.8},{"s":"A5","t":62,"v":10.85},{"s":"A5","t":58.9,"v":10.9},{"s":"A5","t":56,"v":11.0},{"s":"A5","t":54.5,"v":11.1},{"s":"A5","t":53.1,"v":11.6},{"s":"A5","t":52.3,"v":11.2},{"s":"A5","t":50,"v":11.05},{"s":"A5","t":45,"v":11.0},{"s":"A5","t":40,"v":10.9},{"s":"A5","t":35,"v":10.8},{"s":"A5","t":30,"v":10.75},{"s":"A5","t":25,"v":10.7},{"s":"A5","t":17.6,"v":10.5},{"s":"A5","t":15.5,"v":10.8},{"s":"A5","t":13.9,"v":12.0},{"s":"A5","t":13.1,"v":15.9},{"s":"A5","t":12,"v":16.2},{"s":"A5","t":10,"v":16.7},{"s":"A5","t":8,"v":17.2},{"s":"A5","t":6,"v":17.4},{"s":"A5","t":4,"v":17.6},{"s":"A5","t":2,"v":17.6},{"s":"A5","t":0,"v":17.5},
      {"s":"A6","t":125,"v":17.3},{"s":"A6","t":123,"v":17.7},{"s":"A6","t":121,"v":17.9},{"s":"A6","t":119,"v":17.7},{"s":"A6","t":117,"v":17.5},{"s":"A6","t":115,"v":17.2},{"s":"A6","t":113.5,"v":16.8},{"s":"A6","t":112.1,"v":16.3},{"s":"A6","t":110.7,"v":15.16},{"s":"A6","t":109.7,"v":14.5},{"s":"A6","t":108.8,"v":14.2},{"s":"A6","t":107.4,"v":14.0},{"s":"A6","t":106.9,"v":14.5},{"s":"A6","t":106.7,"v":15.9},{"s":"A6","t":105,"v":15.9},{"s":"A6","t":100,"v":15.9},{"s":"A6","t":96,"v":15.95},{"s":"A6","t":93,"v":15.85},{"s":"A6","t":92.2,"v":15.75},{"s":"A6","t":91.3,"v":14.4},{"s":"A6","t":89.8,"v":12.8},{"s":"A6","t":88.9,"v":12.2},{"s":"A6","t":86.5,"v":12.4},{"s":"A6","t":85.4,"v":13.2},{"s":"A6","t":85.1,"v":16.1},{"s":"A6","t":83.5,"v":15.85},{"s":"A6","t":80.4,"v":15.75},{"s":"A6","t":79,"v":14.8},{"s":"A6","t":78,"v":14.2},{"s":"A6","t":76.6,"v":14.9},{"s":"A6","t":76.1,"v":15.35},{"s":"A6","t":75.4,"v":15.3},{"s":"A6","t":74.2,"v":13.94},{"s":"A6","t":73,"v":12.37},{"s":"A6","t":71.3,"v":11.2},{"s":"A6","t":69.2,"v":10.8},{"s":"A6","t":67.2,"v":10.6},{"s":"A6","t":60,"v":10.5},{"s":"A6","t":55,"v":10.55},{"s":"A6","t":50,"v":10.55},{"s":"A6","t":45,"v":10.5},{"s":"A6","t":40,"v":10.45},{"s":"A6","t":35,"v":10.45},{"s":"A6","t":30,"v":10.4},{"s":"A6","t":25,"v":10.3},{"s":"A6","t":17.6,"v":10.2},{"s":"A6","t":15,"v":10.5},{"s":"A6","t":13.1,"v":11.6},{"s":"A6","t":12.5,"v":15.8},{"s":"A6","t":11,"v":16.3},{"s":"A6","t":9,"v":16.8},{"s":"A6","t":7,"v":17.2},{"s":"A6","t":5,"v":17.4},{"s":"A6","t":3,"v":17.5},{"s":"A6","t":1,"v":17.6},{"s":"A6","t":0,"v":17.5},
      {"s":"A7","t":125,"v":17.2},{"s":"A7","t":124,"v":17.6},{"s":"A7","t":123,"v":17.8},{"s":"A7","t":122,"v":17.6},{"s":"A7","t":121,"v":17.9},{"s":"A7","t":120,"v":18.1},{"s":"A7","t":119,"v":17.8},{"s":"A7","t":118,"v":17.4},{"s":"A7","t":116,"v":17.3},{"s":"A7","t":114,"v":17.0},{"s":"A7","t":112.6,"v":16.5},{"s":"A7","t":111.2,"v":15.55},{"s":"A7","t":110.2,"v":14.0},{"s":"A7","t":109.3,"v":13.7},{"s":"A7","t":108.3,"v":11.8},{"s":"A7","t":107.4,"v":11.7},{"s":"A7","t":106.4,"v":12.6},{"s":"A7","t":106,"v":16.1},{"s":"A7","t":105,"v":15.5},{"s":"A7","t":102,"v":15.6},{"s":"A7","t":100,"v":15.65},{"s":"A7","t":96,"v":15.7},{"s":"A7","t":93.5,"v":15.6},{"s":"A7","t":92.7,"v":15.35},{"s":"A7","t":92,"v":13.0},{"s":"A7","t":90.8,"v":11.9},{"s":"A7","t":89.4,"v":11.6},{"s":"A7","t":87.5,"v":11.4},{"s":"A7","t":85.6,"v":11.5},{"s":"A7","t":84.6,"v":13.6},{"s":"A7","t":83.9,"v":16.1},{"s":"A7","t":82.7,"v":15.75},{"s":"A7","t":80.8,"v":14.8},{"s":"A7","t":79,"v":13.0},{"s":"A7","t":77,"v":12.4},{"s":"A7","t":75.6,"v":12.6},{"s":"A7","t":73.8,"v":12.5},{"s":"A7","t":72.5,"v":12.0},{"s":"A7","t":71.3,"v":11.0},{"s":"A7","t":69,"v":10.5},{"s":"A7","t":67.2,"v":10.4},{"s":"A7","t":60,"v":10.3},{"s":"A7","t":50,"v":10.35},{"s":"A7","t":40,"v":10.3},{"s":"A7","t":30,"v":10.25},{"s":"A7","t":25,"v":10.2},{"s":"A7","t":21,"v":10.0},{"s":"A7","t":17.6,"v":9.9},{"s":"A7","t":15,"v":10.2},{"s":"A7","t":12.5,"v":11.6},{"s":"A7","t":12.05,"v":15.6},{"s":"A7","t":11,"v":16.0},{"s":"A7","t":9,"v":16.5},{"s":"A7","t":7,"v":17.0},{"s":"A7","t":5,"v":17.3},{"s":"A7","t":3,"v":17.5},{"s":"A7","t":1,"v":17.6},{"s":"A7","t":0,"v":17.5},
      {"s":"A8","t":125,"v":17.1},{"s":"A8","t":124,"v":17.6},{"s":"A8","t":123.5,"v":17.9},{"s":"A8","t":122.8,"v":17.6},{"s":"A8","t":122,"v":18.0},{"s":"A8","t":121,"v":17.8},{"s":"A8","t":120.3,"v":18.2},{"s":"A8","t":119.5,"v":17.9},{"s":"A8","t":118.5,"v":17.6},{"s":"A8","t":117.8,"v":17.3},{"s":"A8","t":115.9,"v":17.3},{"s":"A8","t":114,"v":17.0},{"s":"A8","t":112.6,"v":16.1},{"s":"A8","t":111.6,"v":14.4},{"s":"A8","t":111.1,"v":14.0},{"s":"A8","t":110.5,"v":11.8},{"s":"A8","t":109.3,"v":11.9},{"s":"A8","t":108.3,"v":11.4},{"s":"A8","t":106.9,"v":11.3},{"s":"A8","t":106.4,"v":11.7},{"s":"A8","t":105.2,"v":12.4},{"s":"A8","t":104.5,"v":12.6},{"s":"A8","t":104,"v":16.1},{"s":"A8","t":103.6,"v":15.55},{"s":"A8","t":102.2,"v":14.7},{"s":"A8","t":100.3,"v":15.16},{"s":"A8","t":97,"v":15.25},{"s":"A8","t":94.1,"v":15.45},{"s":"A8","t":93.2,"v":15.3},{"s":"A8","t":92.2,"v":13.8},{"s":"A8","t":91.5,"v":11.6},{"s":"A8","t":89.8,"v":11.3},{"s":"A8","t":88.4,"v":10.84},{"s":"A8","t":87.5,"v":10.6},{"s":"A8","t":86,"v":10.75},{"s":"A8","t":85.1,"v":11.4},{"s":"A8","t":84.4,"v":14.2},{"s":"A8","t":83.9,"v":16.1},{"s":"A8","t":83.2,"v":15.7},{"s":"A8","t":80.8,"v":14.0},{"s":"A8","t":79.9,"v":12.2},{"s":"A8","t":78.5,"v":11.3},{"s":"A8","t":75.4,"v":11.6},{"s":"A8","t":74.2,"v":11.4},{"s":"A8","t":73,"v":10.9},{"s":"A8","t":71.3,"v":10.6},{"s":"A8","t":69,"v":10.4},{"s":"A8","t":67.2,"v":10.2},{"s":"A8","t":63,"v":10.0},{"s":"A8","t":59,"v":10.0},{"s":"A8","t":54.8,"v":10.1},{"s":"A8","t":50.7,"v":10.2},{"s":"A8","t":46,"v":10.1},{"s":"A8","t":40,"v":10.05},{"s":"A8","t":33.3,"v":10.1},{"s":"A8","t":30,"v":10.0},{"s":"A8","t":27.9,"v":9.86},{"s":"A8","t":25,"v":9.9},{"s":"A8","t":20.9,"v":9.8},{"s":"A8","t":18.8,"v":9.6},{"s":"A8","t":16.8,"v":9.4},{"s":"A8","t":14.7,"v":9.8},{"s":"A8","t":12.7,"v":10.6},{"s":"A8","t":11.8,"v":13.94},{"s":"A8","t":11.5,"v":15.3},{"s":"A8","t":10.2,"v":15.9},{"s":"A8","t":8.5,"v":16.4},{"s":"A8","t":6.5,"v":16.9},{"s":"A8","t":4,"v":17.3},{"s":"A8","t":2,"v":17.5},{"s":"A8","t":0,"v":17.5}
    ]
  },
  "vconcat": [
    {
      "width": 1010, "height": 83.4,
      "layer": [
        {
          "data": {"name": "insol"},
          "mark": {"type": "line", "color": "#3a86b9", "strokeWidth": 3, "interpolate": "monotone", "clip": true},
          "encoding": {
            "x": {"field": "t", "type": "quantitative", "scale": {"domain": [125, 0], "nice": false, "zero": false}, "axis": {"values": [120, 100, 80, 60, 40, 20, 0], "labels": false, "title": null}},
            "y": {"field": "v", "type": "quantitative", "scale": {"domain": [382, 506.5], "nice": false, "zero": false},
                  "axis": {"orient": "right", "values": [400, 500], "title": "Insol. 65°N (W/m²)", "titleAngle": 270, "titleAlign": "center", "titleBaseline": "middle", "titleX": 69, "titleY": 41.7}}
          }
        },
        {
          "data": {"values": [{}]},
          "mark": {"type": "rect", "fill": "#ffffff", "fillOpacity": 0, "stroke": "#1a1a1a", "strokeWidth": 1.7},
          "encoding": {"x": {"datum": 125}, "x2": {"datum": 0}, "y": {"datum": 382}, "y2": {"datum": 506.5}}
        }
      ]
    },
    {
      "width": 1010, "height": 82.4,
      "layer": [
        {
          "data": {"name": "d18o"},
          "mark": {"type": "line", "color": "#9a1c9e", "strokeWidth": 3, "interpolate": "monotone", "clip": true},
          "encoding": {
            "x": {"field": "t", "type": "quantitative", "scale": {"domain": [125, 0], "nice": false, "zero": false}, "axis": {"values": [120, 100, 80, 60, 40, 20, 0], "labels": false, "title": null}},
            "y": {"field": "v", "type": "quantitative", "scale": {"domain": [3.136, 5.039], "reverse": true, "nice": false, "zero": false},
                  "axis": {"orient": "left", "values": [4, 5], "format": "d", "title": "Benthic δ¹⁸O (‰)", "titleAngle": 270, "titleAlign": "center", "titleBaseline": "middle", "titleX": -42, "titleY": 41.2}}
          }
        },
        {
          "data": {"values": [{}]},
          "mark": {"type": "rect", "fill": "#ffffff", "fillOpacity": 0, "stroke": "#1a1a1a", "strokeWidth": 1.7},
          "encoding": {"x": {"datum": 125}, "x2": {"datum": 0}, "y": {"datum": 3.136}, "y2": {"datum": 5.039}}
        }
      ]
    },
    {
      "width": 1010, "height": 83.4,
      "layer": [
        {
          "data": {"name": "rf"},
          "transform": [{"fold": ["A0", "A1", "A2", "A3", "A4", "A5", "A6", "A7", "A8"], "as": ["s", "v"]}],
          "mark": {"type": "line", "strokeWidth": 3, "interpolate": "monotone", "clip": true},
          "encoding": {
            "x": {"field": "t", "type": "quantitative", "scale": {"domain": [125, 0], "nice": false, "zero": false}, "axis": {"values": [120, 100, 80, 60, 40, 20, 0], "labels": false, "title": null}},
            "y": {"field": "v", "type": "quantitative", "scale": {"domain": [-10.86, 1.06], "nice": false, "zero": false},
                  "axis": {"orient": "right", "values": [0, -5, -10], "title": "GHG+dust RF (W/m²)", "titleAngle": 270, "titleAlign": "center", "titleBaseline": "middle", "titleX": 91, "titleY": 38.5}},
            "color": {"field": "s", "type": "nominal", "scale": {"domain": ["A0", "A1", "A2", "A3", "A4", "A5", "A6", "A7", "A8"], "range": ["#000000", "#2064aa", "#3690c5", "#92c5de", "#808080", "#fbc04a", "#f6a487", "#e5484b", "#c5132f"]}, "legend": null}
          }
        },
        {
          "data": {"values": [{}]},
          "mark": {"type": "rect", "fill": "#ffffff", "fillOpacity": 0, "stroke": "#1a1a1a", "strokeWidth": 1.7},
          "encoding": {"x": {"datum": 125}, "x2": {"datum": 0}, "y": {"datum": -10.86}, "y2": {"datum": 1.06}}
        }
      ]
    },
    {
      "width": 1010, "height": 183,
      "layer": [
        {
          "data": {"name": "mis"},
          "mark": {"type": "rect", "color": "#e2e2e2"},
          "encoding": {
            "x": {"field": "a", "type": "quantitative", "scale": {"domain": [125, 0], "nice": false, "zero": false}, "axis": {"values": [120, 100, 80, 60, 40, 20, 0], "labels": false, "title": null}},
            "x2": {"field": "b"}
          }
        },
        {
          "data": {"name": "amoc"},
          "mark": {"type": "line", "strokeWidth": 3, "clip": true, "strokeJoin": "round"},
          "encoding": {
            "x": {"field": "t", "type": "quantitative", "scale": {"domain": [125, 0], "nice": false, "zero": false}, "axis": {"values": [120, 100, 80, 60, 40, 20, 0], "labels": false, "title": null}},
            "y": {"field": "v", "type": "quantitative", "scale": {"domain": [8.85, 19.6], "nice": false, "zero": false},
                  "axis": {"orient": "left", "values": [10, 15], "title": "AMOC strength (Sv)", "titleAngle": 270, "titleAlign": "center", "titleBaseline": "middle", "titleX": -53, "titleY": 91.5}},
            "color": {"field": "s", "type": "nominal", "scale": {"domain": ["A0", "A1", "A2", "A3", "A4", "A5", "A6", "A7", "A8"], "range": ["#000000", "#2064aa", "#3690c5", "#92c5de", "#808080", "#fbc04a", "#f6a487", "#e5484b", "#c5132f"]}, "legend": null}
          }
        },
        {
          "data": {"values": [{}]},
          "mark": {"type": "rect", "fill": "#ffffff", "fillOpacity": 0, "stroke": "#1a1a1a", "strokeWidth": 1.7},
          "encoding": {"x": {"datum": 125}, "x2": {"datum": 0}, "y": {"datum": 8.85}, "y2": {"datum": 19.6}}
        }
      ]
    },
    {
      "width": 1010, "height": 183.3,
      "layer": [
        {
          "data": {"name": "mis"},
          "mark": {"type": "rect", "color": "#e2e2e2"},
          "encoding": {
            "x": {"field": "a", "type": "quantitative", "scale": {"domain": [125, 0], "nice": false, "zero": false}, "axis": {"values": [120, 100, 80, 60, 40, 20, 0], "title": "Time (ka)", "titlePadding": 4, "labelPadding": 6}},
            "x2": {"field": "b"}
          }
        },
        {
          "data": {"name": "gmst"},
          "transform": [{"fold": ["A0", "A1", "A2", "A3", "A4", "A5", "A6", "A7", "A8"], "as": ["s", "v"]}],
          "mark": {"type": "line", "strokeWidth": 3, "interpolate": "monotone", "clip": true},
          "encoding": {
            "x": {"field": "t", "type": "quantitative", "scale": {"domain": [125, 0], "nice": false, "zero": false}, "axis": {"values": [120, 100, 80, 60, 40, 20, 0], "title": "Time (ka)", "titlePadding": 4, "labelPadding": 6}},
            "y": {"field": "v", "type": "quantitative", "scale": {"domain": [-9.61, 0.876], "nice": false, "zero": false},
                  "axis": {"orient": "right", "values": [0, -5], "title": "ΔGMST (°C)", "titleAngle": 270, "titleAlign": "center", "titleBaseline": "middle", "titleX": 72, "titleY": 91.65}},
            "color": {"field": "s", "type": "nominal", "scale": {"domain": ["A0", "A1", "A2", "A3", "A4", "A5", "A6", "A7", "A8"], "range": ["#000000", "#2064aa", "#3690c5", "#92c5de", "#808080", "#fbc04a", "#f6a487", "#e5484b", "#c5132f"]},
                      "legend": {"orient": "none", "legendX": 12, "legendY": 132.7, "direction": "horizontal", "columns": 9, "title": null,
                                 "symbolType": "stroke", "symbolSize": 784, "symbolStrokeWidth": 3.3, "labelFontSize": 22, "labelFont": "DejaVu Sans", "labelColor": "#000000",
                                 "labelOffset": 12, "columnPadding": 2, "padding": 5, "fillColor": "rgba(255,255,255,0.8)", "strokeColor": "#cccccc", "cornerRadius": 5, "zindex": 2}}
          }
        },
        {
          "data": {"values": [{}]},
          "mark": {"type": "rect", "fill": "#ffffff", "fillOpacity": 0, "stroke": "#1a1a1a", "strokeWidth": 1.7},
          "encoding": {"x": {"datum": 125}, "x2": {"datum": 0}, "y": {"datum": -9.61}, "y2": {"datum": 0.876}}
        }
      ]
    }
  ]
}
